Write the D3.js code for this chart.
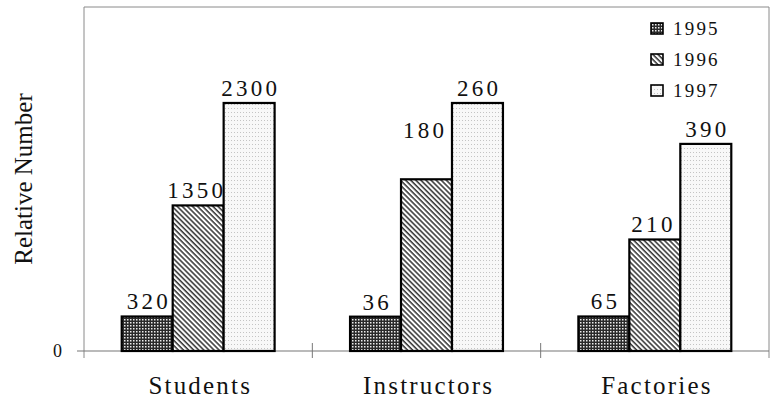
<!DOCTYPE html>
<html>
<head>
<meta charset="utf-8">
<script src="https://cdn.jsdelivr.net/npm/d3@7"></script>
<style>
  body { margin: 0; background: #fff; }
  svg text { font-family: "Liberation Serif", serif; fill: #111; }
</style>
</head>
<body>
<div id="chart"></div>
<script>
// data
let categories = ["Students", "Instructors", "Factories"];
let years = ["1995", "1996", "1997"];
let values1995 = [320, 36, 65];
let values1996 = [1350, 180, 210];
let values1997 = [2300, 260, 390];
// height of the tallest bar in each group, relative (Students = 100)
let groupTop = [100, 100, 83.5];

let widthh = 775, heightt = 404;
let leftX = 84, rightX = 769, topY = 7, baseY = 351;

let svg = d3.select('#chart')
  .append('svg')
  .attr('width', widthh)
  .attr('height', heightt);

// widen text by spreading letters
function spread(sel, gap) {
  sel.each(function () {
    let n = this.textContent.length;
    let w = this.getComputedTextLength();
    d3.select(this).attr('textLength', w + gap * (n - 1)).attr('lengthAdjust', 'spacing');
  });
}

// patterns for the three years
let defs = svg.append('defs');
let p95 = defs.append('pattern').attr('id', 'p1995')
  .attr('patternUnits', 'userSpaceOnUse').attr('width', 3).attr('height', 3);
p95.append('rect').attr('width', 3).attr('height', 3).attr('fill', '#2a2a2a');
p95.append('rect').attr('x', 1).attr('y', 1).attr('width', 1.5).attr('height', 1.5).attr('fill', '#ececec');

let p96 = defs.append('pattern').attr('id', 'p1996')
  .attr('patternUnits', 'userSpaceOnUse').attr('width', 3.6).attr('height', 3.6)
  .attr('patternTransform', 'rotate(-45)');
p96.append('rect').attr('width', 3.6).attr('height', 3.6).attr('fill', '#fff');
p96.append('line').attr('x1', 1).attr('x2', 1).attr('y1', 0).attr('y2', 3.6)
  .attr('stroke', '#111').attr('stroke-width', 1.3);

let p97 = defs.append('pattern').attr('id', 'p1997')
  .attr('patternUnits', 'userSpaceOnUse').attr('width', 3).attr('height', 4);
p97.append('rect').attr('width', 3).attr('height', 4).attr('fill', '#f8f8f8');
p97.append('rect').attr('width', 1).attr('height', 1).attr('fill', '#c4c4c4');

let fills = { "1995": "url(#p1995)", "1996": "url(#p1996)", "1997": "url(#p1997)" };

// scales
let x0 = d3.scaleBand().domain(categories).range([leftX, rightX]);
let x1 = d3.scaleBand().domain(years).range([0, x0.bandwidth()]).paddingOuter(0.74);
let yScale = d3.scaleLinear().domain([0, 138.7]).range([baseY, topY]);

// frame
svg.append('path')
  .attr('d', `M${leftX},${baseY + 7}V${topY}H${rightX}V${baseY + 7}`)
  .attr('fill', 'none').attr('stroke', '#8a8a8a').attr('stroke-width', 1);

// x axis with ticks between groups
let xAxisG = svg.append('g').attr('transform', `translate(0, ${baseY})`);
xAxisG.append('line').attr('x1', leftX - 7).attr('x2', rightX).attr('y1', 0).attr('y2', 0)
  .attr('stroke', '#777').attr('stroke-width', 1.2);
xAxisG.selectAll('.tk')
  .data(categories.slice(1))
  .enter()
  .append('line')
  .attr('x1', d => x0(d)).attr('x2', d => x0(d))
  .attr('y1', -8).attr('y2', 7)
  .attr('stroke', '#777').attr('stroke-width', 1);
xAxisG.selectAll('.cat')
  .data(categories)
  .enter()
  .append('text')
  .attr('x', d => x0(d) + x0.bandwidth() / 2 + 1)
  .attr('y', 43)
  .attr('text-anchor', 'middle')
  .attr('font-size', 25)
  .text(d => d)
  .call(spread, 2.2);

// y axis: only the zero label
svg.append('text')
  .attr('x', 62)
  .attr('y', yScale(0) + 6)
  .attr('text-anchor', 'end')
  .attr('font-size', 18)
  .text('0');

svg.append('text')
  .attr('transform', `translate(32, ${(topY + baseY) / 2}) rotate(-90)`)
  .attr('text-anchor', 'middle')
  .attr('font-size', 25)
  .text('Relative Number');

// bars
let seriesVals = { "1995": values1995, "1996": values1996, "1997": values1997 };
let bars = [];
categories.forEach((c, i) => {
  let groupMax = d3.max(years, yr => seriesVals[yr][i]);
  years.forEach(yr => {
    let v = seriesVals[yr][i];
    bars.push({ cat: c, year: yr, value: v, rel: v / groupMax * groupTop[i] });
  });
});

svg.selectAll('.bar')
  .data(bars)
  .enter()
  .append('rect')
  .attr('x', d => x0(d.cat) + x1(d.year))
  .attr('y', d => yScale(d.rel))
  .attr('width', x1.bandwidth())
  .attr('height', d => yScale(0) - yScale(d.rel))
  .attr('fill', d => fills[d.year])
  .attr('stroke', '#000')
  .attr('stroke-width', 2.2);

// value labels (the Instructors 1996 label sits higher in the original)
let raised = { "Instructors-1996": 34 };
svg.selectAll('.val')
  .data(bars)
  .enter()
  .append('text')
  .attr('x', d => x0(d.cat) + x1(d.year) + x1.bandwidth() / 2 - (d.year === "1996" ? 3 : 0))
  .attr('y', d => yScale(d.rel) - 7 - (raised[d.cat + '-' + d.year] || 0))
  .attr('text-anchor', 'middle')
  .attr('font-size', 23)
  .text(d => d.value)
  .call(spread, 3.3);

// legend
let legend = svg.append('g').attr('transform', 'translate(651, 23)');
let li = legend.selectAll('g')
  .data(years)
  .enter()
  .append('g')
  .attr('transform', (d, i) => `translate(0, ${i * 31})`);
li.append('rect')
  .attr('width', 12).attr('height', 11)
  .attr('fill', d => fills[d])
  .attr('stroke', '#000').attr('stroke-width', 1.6);
li.append('text')
  .attr('x', 22).attr('y', 12)
  .attr('font-size', 19)
  .text(d => d)
  .call(spread, 2.2);
</script>
</body>
</html>
